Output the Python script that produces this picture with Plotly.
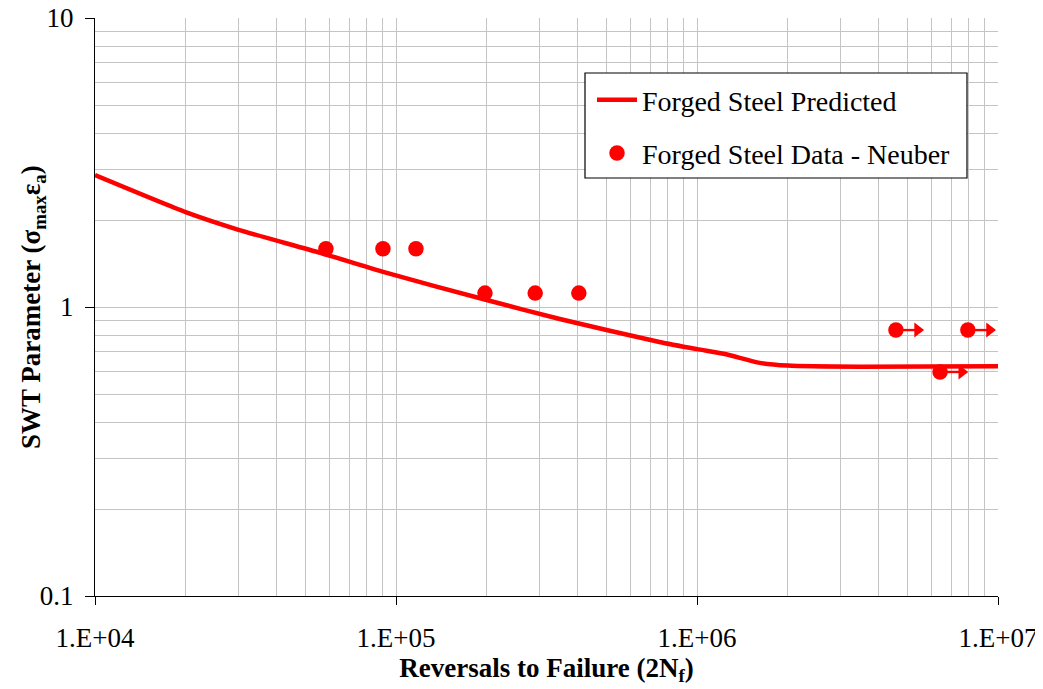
import math
import plotly.graph_objects as go

# ---- data ----
pred_x = [1e4, 2e4, 3e4, 5.6e4, 9e4, 2e5, 3.5e5, 7.5e5, 1e6, 1.25e6, 1.6e6, 2e6, 3.5e6, 1e7]
pred_y = [2.86, 2.13, 1.85, 1.54, 1.325, 1.057, 0.909, 0.757, 0.715, 0.686, 0.642, 0.627, 0.621, 0.624]

data_x = [58500, 90500, 116500, 197500, 290000, 405000, 4.58e6, 6.42e6, 7.94e6]
data_y = [1.59, 1.59, 1.59, 1.117, 1.117, 1.117, 0.832, 0.596, 0.832]
runout = [False, False, False, False, False, False, True, True, True]

x_tickvals = [1e4, 1e5, 1e6, 1e7]
x_ticktext = ["1.E+04", "1.E+05", "1.E+06", "1.E+07"]
y_tickvals = [0.1, 1, 10]
y_ticktext = ["0.1", "1", "10"]

RED = "#FF0000"
GRID = "#C4C4C4"
FONT = "Liberation Serif"
ARROW_LEN = 0.072  # decades from marker centre to arrowhead centre

x_minor = [k * 10 ** d for d in range(4, 7) for k in range(2, 10)]
y_minor = [k * 10 ** d for d in range(-1, 1) for k in range(2, 10)]

# page body has an 8px margin -> figure is 8px smaller than the window
PAGE_OFF = 8
W, H = 1043 - PAGE_OFF, 689 - PAGE_OFF
PL, PT, PR, PB = 95, 18, 998, 596  # plot area in window pixels
PW, PH = PR - PL, PB - PT

fig = go.Figure()
fig.add_trace(go.Scatter(
    x=pred_x, y=pred_y, mode="lines", name="Forged Steel Predicted",
    line=dict(color=RED, width=4.5, shape="spline", smoothing=0.6),
    legendgroup="a",
))

# run-out arrows
ax_line, ay_line, hx, hy = [], [], [], []
for xv, yv, ro in zip(data_x, data_y, runout):
    if ro:
        xe = xv * 10 ** ARROW_LEN
        ax_line += [xv, xe, None]
        ay_line += [yv, yv, None]
        hx.append(xe)
        hy.append(yv)
fig.add_trace(go.Scatter(
    x=ax_line, y=ay_line, mode="lines", line=dict(color=RED, width=2.4),
    showlegend=False, hoverinfo="skip",
))
fig.add_trace(go.Scatter(
    x=hx, y=hy, mode="markers", marker=dict(color=RED, size=13, symbol="triangle-right"),
    showlegend=False, hoverinfo="skip", cliponaxis=False,
))

fig.add_trace(go.Scatter(
    x=data_x, y=data_y, mode="markers", name="Forged Steel Data - Neuber",
    marker=dict(color=RED, size=15.5, symbol="circle"),
    legendgroup="b", cliponaxis=False,
))

fig.update_xaxes(
    type="log", range=[4, 7], automargin=False,
    tickmode="array", tickvals=x_tickvals, ticktext=x_ticktext,
    ticks="outside", ticklen=8, tickcolor="black", tickwidth=1,
    ticklabelstandoff=9, ticklabeloverflow="allow",
    showline=True, linecolor="black", linewidth=1.3,
    showgrid=True, gridcolor=GRID, gridwidth=1,
    minor=dict(tickmode="array", tickvals=x_minor, showgrid=True, gridcolor=GRID, gridwidth=1, ticks=""),
    tickfont=dict(family=FONT, size=27, color="black"),
    title=dict(text="<b>Reversals to Failure (2N<sub>f</sub>)</b>",
               font=dict(family=FONT, size=27, color="black"), standoff=4),
    zeroline=False,
)
fig.update_yaxes(
    type="log", range=[-1, 1], automargin=False,
    tickmode="array", tickvals=y_tickvals, ticktext=y_ticktext,
    ticks="outside", ticklen=9, tickcolor="black", tickwidth=1,
    ticklabelstandoff=6, ticklabeloverflow="allow",
    showline=True, linecolor="black", linewidth=1.3,
    showgrid=True, gridcolor=GRID, gridwidth=1,
    minor=dict(tickmode="array", tickvals=y_minor, showgrid=True, gridcolor=GRID, gridwidth=1, ticks=""),
    tickfont=dict(family=FONT, size=27, color="black"),
    zeroline=False,
)

# y-axis title as a rotated annotation
fig.add_annotation(
    text="<b>SWT Parameter (σ<sub>max</sub>ε<sub>a</sub>)</b>",
    xref="paper", yref="paper", x=(33 - PL) / PW, y=0.5,
    xanchor="center", yanchor="middle", textangle=-90, showarrow=False,
    font=dict(family=FONT, size=27, color="black"),
)

# legend frame
fig.add_shape(
    type="rect", xref="paper", yref="paper",
    x0=(585 - PL) / PW, x1=(967 - PL) / PW,
    y0=(PB - 178) / PH, y1=(PB - 73) / PH,
    line=dict(color="black", width=1.2), fillcolor="white", layer="above",
)

fig.update_layout(
    width=W, height=H,
    margin=dict(l=PL - PAGE_OFF, r=1043 - PR, t=PT - PAGE_OFF, b=689 - PB, autoexpand=False),
    paper_bgcolor="white", plot_bgcolor="white",
    font=dict(family=FONT, size=27, color="black"),
    showlegend=True,
    legend=dict(
        x=(592 - PL) / PW, y=(PB - 75) / PH, xanchor="left", yanchor="top",
        bgcolor="rgba(0,0,0,0)", borderwidth=0,
        font=dict(family=FONT, size=28, color="black"),
        traceorder="grouped", tracegroupgap=14, itemwidth=40,
    ),
)

fig.write_html("out.html")
